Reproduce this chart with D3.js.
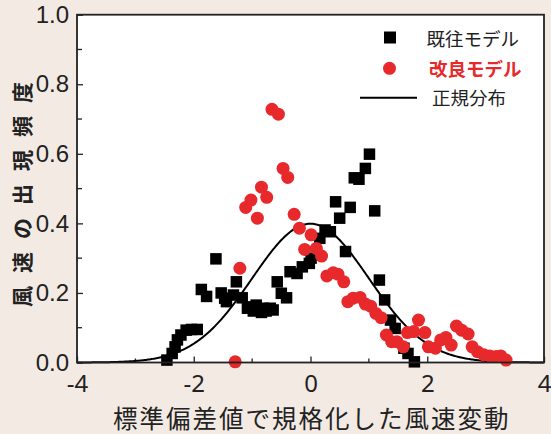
<!DOCTYPE html>
<html>
<head>
<meta charset="utf-8">
<script src="https://cdn.jsdelivr.net/npm/d3@7"></script>
<style>
	body {margin:0; background:#f2eae3;}
	svg {display:block;}
</style>
</head>
<body>
<div id="chart"></div>
<script>
//Data
var oldX = [-2.46,-2.37,-2.32,-2.28,-2.22,-2.13,-2.04,-1.94,-1.87,-1.78,-1.62,-1.53,-1.47,-1.44,-1.32,-1.27,-1.17,-1.08,-1.04,-0.98,-0.93,-0.84,-0.81,-0.76,-0.69,-0.64,-0.57,-0.50,-0.41,-0.35,-0.23,-0.14,-0.02,0.01,0.16,0.25,0.34,0.43,0.50,0.60,0.68,0.75,0.83,0.94,1.01,1.10,1.18,1.27,1.37,1.45,1.60,1.67,1.78];
var oldY = [0.007,0.026,0.045,0.065,0.079,0.093,0.095,0.095,0.210,0.190,0.298,0.200,0.185,0.175,0.194,0.232,0.186,0.156,0.160,0.148,0.165,0.144,0.156,0.148,0.156,0.151,0.232,0.199,0.186,0.261,0.256,0.275,0.285,0.300,0.357,0.381,0.376,0.462,0.415,0.319,0.446,0.531,0.527,0.558,0.599,0.436,0.237,0.180,0.122,0.098,0.041,0.026,0.002];
var newX = [-1.29,-1.21,-1.11,-1.02,-0.91,-0.84,-0.75,-0.66,-0.55,-0.47,-0.39,-0.28,-0.19,-0.10,0.01,0.10,0.19,0.28,0.39,0.47,0.57,0.64,0.73,0.85,0.94,1.03,1.12,1.21,1.30,1.39,1.48,1.59,1.66,1.77,1.85,1.96,2.02,2.14,2.23,2.32,2.41,2.50,2.59,2.70,2.77,2.86,2.97,3.07,3.18,3.26,3.35];
var newY = [0.002,0.271,0.446,0.467,0.415,0.504,0.475,0.728,0.714,0.558,0.532,0.426,0.386,0.325,0.367,0.328,0.306,0.249,0.258,0.254,0.232,0.175,0.185,0.187,0.168,0.162,0.141,0.129,0.079,0.060,0.060,0.045,0.086,0.089,0.122,0.086,0.045,0.041,0.065,0.072,0.050,0.105,0.093,0.082,0.045,0.031,0.022,0.019,0.017,0.019,0.007];
var xTicks = [-4,-2,0,2,4];
var xMinor = [-3,-1,1,3];
var yTicks = [0,0.2,0.4,0.6,0.8,1.0];
var yMinor = [0.1,0.3,0.5,0.7,0.9];
var legendLabels = ["既往モデル","改良モデル","正規分布"];
var xTitle = "標準偏差値で規格化した風速変動";
var yTitle = "風速の出現頻度";

var width = 551, height = 434;
var red = "#e8292b";

var svg = d3.select('#chart').append('svg')
	.attr('width',width)
	.attr('height',height);

svg.append('rect')
	.attr('width',width).attr('height',height)
	.attr('fill','#f2eae3');

//Scales
var x = d3.scaleLinear().domain([-4,4]).range([77,544]);
var y = d3.scaleLinear().domain([0,1]).range([362.5,14.7]);

//Plot area
svg.append('rect')
	.attr('x',x(-4)).attr('y',y(1))
	.attr('width',x(4)-x(-4)).attr('height',y(0)-y(1))
	.attr('fill','#fff');

//Axes (ticks point inward)
var xAxis = svg.append('g')
	.attr('transform','translate(0,'+y(0)+')')
	.call(d3.axisBottom(x).tickValues(xTicks).tickSize(-6).tickSizeOuter(0).tickPadding(12)
		.tickFormat(function(d){return String(d);}));
xAxis.select('.domain').remove();
xAxis.selectAll('text')
	.style('font-family','"Noto Sans", sans-serif')
	.style('font-size','24px')
	.attr('fill','#222');
xAxis.selectAll('line').attr('stroke','#222').attr('stroke-width',1.3);
xAxis.selectAll('.minor')
	.data(xMinor).enter().append('line')
		.attr('class','minor')
		.attr('x1',function(d){return x(d);}).attr('x2',function(d){return x(d);})
		.attr('y1',0).attr('y2',-4)
		.attr('stroke','#222').attr('stroke-width',1.3);

var yAxis = svg.append('g')
	.attr('transform','translate('+x(-4)+',0)')
	.call(d3.axisLeft(y).tickValues(yTicks).tickSize(-6).tickSizeOuter(0).tickPadding(8)
		.tickFormat(d3.format('.1f')));
yAxis.select('.domain').remove();
yAxis.selectAll('text')
	.style('font-family','"Liberation Sans", Arial, sans-serif')
	.style('font-size','24px')
	.attr('fill','#222');
yAxis.selectAll('line').attr('stroke','#222').attr('stroke-width',1.3);
yAxis.selectAll('.minor')
	.data(yMinor).enter().append('line')
		.attr('class','minor')
		.attr('y1',function(d){return y(d);}).attr('y2',function(d){return y(d);})
		.attr('x1',0).attr('x2',5)
		.attr('stroke','#222').attr('stroke-width',1.3);

//Black squares
var sq = 11.5;
svg.append('g').selectAll('rect')
	.data(oldX.map(function(d,i){return {x:d, y:oldY[i]};}))
	.enter().append('rect')
		.attr('x',function(d){return x(d.x)-sq/2;})
		.attr('y',function(d){return y(d.y)-sq/2;})
		.attr('width',sq).attr('height',sq)
		.attr('fill','#000');

//Normal distribution curve
var pdf = function(v){return Math.exp(-v*v/2)/Math.sqrt(2*Math.PI);};
var curve = d3.range(-4,4.001,0.02).map(function(v){return [v,pdf(v)];});
svg.append('path')
	.datum(curve)
	.attr('d',d3.line().x(function(d){return x(d[0]);}).y(function(d){return y(d[1]);}))
	.attr('fill','none')
	.attr('stroke','#000')
	.attr('stroke-width',2);

//Red circles
svg.append('g').selectAll('circle')
	.data(newX.map(function(d,i){return {x:d, y:newY[i]};}))
	.enter().append('circle')
		.attr('cx',function(d){return x(d.x);})
		.attr('cy',function(d){return y(d.y);})
		.attr('r',6.5)
		.attr('fill',red);

//Frame
svg.append('rect')
	.attr('x',x(-4)).attr('y',y(1))
	.attr('width',x(4)-x(-4)).attr('height',y(0)-y(1))
	.attr('fill','none')
	.attr('stroke','#222')
	.attr('stroke-width',1.8);

//Legend
var lg = svg.append('g')
	.style('font-family','"Noto Sans CJK JP", sans-serif')
	.style('font-size','18.5px');
lg.append('rect')
	.attr('x',390-6).attr('y',37.5-6).attr('width',12).attr('height',12)
	.attr('fill','#000');
lg.append('circle')
	.attr('cx',389.5).attr('cy',68.3).attr('r',6.5)
	.attr('fill',red);
lg.append('line')
	.attr('x1',360).attr('x2',417).attr('y1',97.7).attr('y2',97.7)
	.attr('stroke','#000').attr('stroke-width',2);
lg.selectAll('text')
	.data(legendLabels)
	.enter().append('text')
		.attr('x',function(d,i){return [426.5,429,432][i];})
		.attr('y',function(d,i){return [38,68,97][i];})
		.attr('dominant-baseline','central')
		.attr('fill',function(d,i){return i==1 ? red : '#222';})
		.style('font-weight',function(d,i){return i==1 ? 'bold' : 'normal';})
		.text(function(d){return d;});

//Axis titles
svg.append('text')
	.attr('x',113).attr('y',417)
	.attr('dominant-baseline','central')
	.style('font-family','"Noto Sans CJK JP", sans-serif')
	.style('font-size','24.5px')
	.style('letter-spacing','2px')
	.attr('fill','#222')
	.text(xTitle);

svg.append('text')
	.attr('transform','translate(21,307) rotate(-90)')
	.attr('dominant-baseline','central')
	.style('font-family','"Noto Sans CJK JP", sans-serif')
	.style('font-size','21px')
	.style('font-weight','bold')
	.style('letter-spacing','13px')
	.attr('fill','#222')
	.text(yTitle);
</script>
</body>
</html>
